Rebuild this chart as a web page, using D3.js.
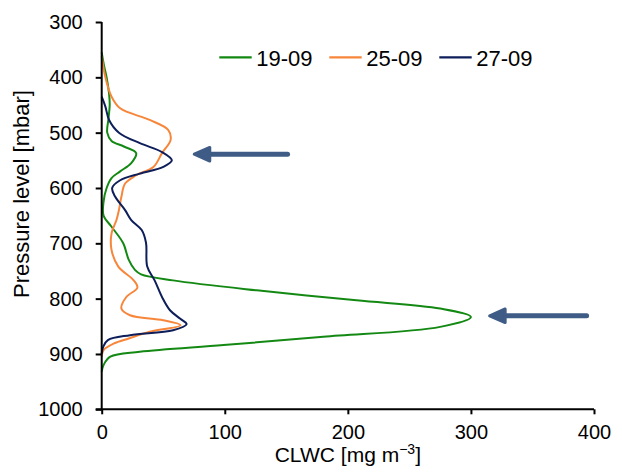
<!DOCTYPE html>
<html lang="en">
<head>
    <meta charset="UTF-8">
    <title>CLWC profiles</title>
    <script src="https://cdn.jsdelivr.net/npm/d3@7"></script>
    <style>
        body { margin: 0; background: #fff; }
        text { font-family: "Liberation Sans", Arial, sans-serif; fill: #000; }
        .axis path, .axis line { stroke: #000; stroke-width: 2px; }
    </style>
</head>
<body>
<div id="chart"></div>
<script>
    var width = 622;
    var height = 473;
    var margin = {left: 101.7, right: 28, top: 22, bottom: 63.7};

    // series: pressure level [mbar] and CLWC [mg m-3]
    var names = ["19-09", "25-09", "27-09"];
    var colors = ["#138913", "#f7863b", "#0d1e5a"];

    var p1909 = [355, 380, 400, 430, 450, 475, 500, 515, 525, 537, 555, 570, 582, 600, 625, 650, 670, 700, 730, 748, 756, 767, 785, 803, 818, 833, 851, 869, 884, 896, 905, 920, 932];
    var v1909 = [0, 2, 4, 6, 6.5, 5.5, 4.5, 8, 18, 28, 24, 15, 8, 4, 1.5, 1.5, 8, 17.5, 22, 27, 32, 58, 126, 207, 275, 300, 275, 180, 99, 31, 7, 1.5, 0];

    var p2509 = [362, 400, 435, 456, 477, 495, 513, 537, 562, 577, 592, 616, 640, 658, 682, 712, 742, 767, 780, 797, 818, 830, 839, 848, 860, 872, 881, 893, 905];
    var v2509 = [0, 3, 8, 15, 39, 54, 56, 49, 42, 28, 19, 16, 14, 12, 8, 8, 13.5, 26, 29, 20, 16, 23, 50, 64, 39, 22, 10, 1.5, 0];

    var p2709 = [435, 453, 477, 500, 519, 535, 550, 562, 574, 586, 600, 616, 640, 658, 676, 699, 742, 767, 797, 821, 836, 846, 857, 866, 875, 887, 900];
    var v2709 = [0, 3, 6, 14, 31, 49, 57, 50, 31, 15, 8.5, 11, 19, 24, 32.5, 36, 37, 43, 49, 55.5, 63.6, 69, 58, 23, 5, 1.2, 0];

    var xTicks = [0, 100, 200, 300, 400];
    var yTicks = [300, 400, 500, 600, 700, 800, 900, 1000];

    // arrows pointing at the peaks: [tail x, tip x, pressure]
    var arrows = [[151, 74, 539], [394, 314, 831]];

    var series = [
        {name: names[0], color: colors[0], p: p1909, v: v1909},
        {name: names[1], color: colors[1], p: p2509, v: v2509},
        {name: names[2], color: colors[2], p: p2709, v: v2709}
    ];

    var svg = d3.select("#chart")
            .append("svg")
            .attr("width", width)
            .attr("height", height);

    var xScale = d3.scaleLinear()
            .domain([0, 400])
            .range([margin.left, width - margin.right]);

    var yScale = d3.scaleLinear()
            .domain([300, 1000])
            .range([margin.top, height - margin.bottom]);

    var line = d3.line()
            .x(function (d) { return xScale(d[1]); })
            .y(function (d) { return yScale(d[0]); })
            .curve(d3.curveCatmullRom.alpha(0.5));

    svg.selectAll(".series")
            .data(series)
            .enter()
            .append("path")
            .attr("class", "series")
            .attr("fill", "none")
            .attr("stroke", function (d) { return d.color; })
            .attr("stroke-width", 2)
            .attr("d", function (d) {
                return line(d.p.map(function (p, i) { return [p, d.v[i]]; }));
            });

    // axes
    var xAxis = d3.axisBottom(xScale)
            .tickValues(xTicks)
            .tickFormat(d3.format("d"))
            .tickSize(5)
            .tickPadding(11);

    var yAxis = d3.axisLeft(yScale)
            .tickValues(yTicks)
            .tickFormat(d3.format("d"))
            .tickSize(6)
            .tickPadding(13);

    var gx = svg.append("g")
            .attr("class", "axis")
            .attr("transform", "translate(0," + yScale(1000) + ")")
            .call(xAxis);

    var gy = svg.append("g")
            .attr("class", "axis")
            .attr("transform", "translate(" + xScale(0) + ",0)")
            .call(yAxis);

    svg.selectAll(".axis .domain").attr("d", null);
    gx.append("line").attr("x1", xScale(0) - 6).attr("x2", xScale(400));
    gy.append("line").attr("y1", yScale(300)).attr("y2", yScale(1000));

    svg.selectAll(".axis text")
            .style("font-family", "'Liberation Sans', Arial, sans-serif")
            .style("font-size", "20px")
            .attr("fill", "#000");

    // axis titles
    var xt = svg.append("text")
            .attr("x", (xScale(0) + xScale(400)) / 2)
            .attr("y", 462)
            .attr("text-anchor", "middle")
            .style("font-size", "21px");
    xt.append("tspan").text("CLWC [mg m");
    xt.append("tspan").attr("dy", -8).style("font-size", "14px").text("\u22123");
    xt.append("tspan").attr("dy", 8).text("]");

    svg.append("text")
            .attr("transform", "translate(29,194) rotate(-90)")
            .attr("text-anchor", "middle")
            .style("font-size", "22px")
            .text("Pressure level [mbar]");

    // legend
    var legend = svg.selectAll(".legend")
            .data(series)
            .enter()
            .append("g")
            .attr("class", "legend")
            .attr("transform", function (d, i) {
                return "translate(" + (219.3 + i * 110) + ",57.3)";
            });

    legend.append("line")
            .attr("x1", 0)
            .attr("x2", 32.4)
            .attr("stroke", function (d) { return d.color; })
            .attr("stroke-width", 2.2);

    legend.append("text")
            .attr("x", 37)
            .attr("y", 8.2)
            .style("font-size", "22px")
            .text(function (d) { return d.name; });

    // arrows
    var arrowColor = "#3e5c85";
    var headLen = 17, headHalf = 8.3;
    var ag = svg.selectAll(".arrow")
            .data(arrows)
            .enter()
            .append("g")
            .attr("class", "arrow");

    ag.append("line")
            .attr("x1", function (d) { return xScale(d[0]); })
            .attr("x2", function (d) { return xScale(d[1]) + headLen - 2; })
            .attr("y1", function (d) { return yScale(d[2]); })
            .attr("y2", function (d) { return yScale(d[2]); })
            .attr("stroke", arrowColor)
            .attr("stroke-width", 5)
            .attr("stroke-linecap", "round");

    ag.append("path")
            .attr("d", function (d) {
                var tx = xScale(d[1]) + 1.5, ty = yScale(d[2]);
                return "M" + tx + "," + ty +
                        "L" + (tx + headLen - 1.5) + "," + (ty - headHalf + 1.5) +
                        "L" + (tx + headLen - 1.5) + "," + (ty + headHalf - 1.5) + "Z";
            })
            .attr("fill", arrowColor)
            .attr("stroke", arrowColor)
            .attr("stroke-width", 3)
            .attr("stroke-linejoin", "round");
</script>
</body>
</html>
